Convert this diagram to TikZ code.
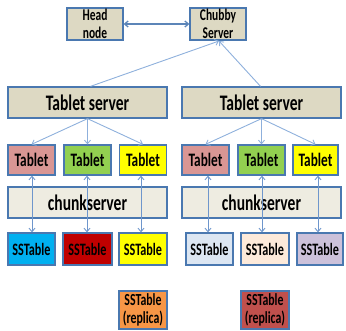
\documentclass[tikz,border=0pt]{standalone}
\usepackage{fontspec}
\setmainfont{Carlito}[FakeStretch=0.70]
\usetikzlibrary{arrows.meta}
\definecolor{tan}{HTML}{DDD9C3}
\definecolor{cream}{HTML}{EEECE1}
\definecolor{bord}{HTML}{4A78B0}
\definecolor{arr}{HTML}{6E96CC}
\definecolor{arrl}{HTML}{8EB0DC}
\definecolor{tpink}{HTML}{D99694}
\definecolor{tgreen}{HTML}{92D050}
\definecolor{tyellow}{HTML}{FFFF00}
\definecolor{scyan}{HTML}{00B0F0}
\definecolor{sred}{HTML}{C00000}
\definecolor{slblue}{HTML}{DCE6F2}
\definecolor{speach}{HTML}{FDEADA}
\definecolor{slav}{HTML}{CCC1DA}
\definecolor{rorange}{HTML}{F79646}
\definecolor{rred}{HTML}{C0504D}
\tikzset{
  box/.style={draw=bord, line width=1.3pt, rectangle, inner sep=0pt, align=center, text=black},
  smallbox/.style={box, fill=tan, minimum width=56pt, minimum height=32pt, font=\bfseries\fontsize{16.4}{18.5}\selectfont},
  serverbox/.style={box, fill=tan, minimum width=159pt, minimum height=31pt, font=\bfseries\fontsize{22.2}{25}\selectfont},
  chunkbox/.style={box, fill=cream, minimum width=159pt, minimum height=31pt, font=\bfseries\fontsize{22.2}{25}\selectfont},
  tabbox/.style={box, minimum width=47pt, minimum height=30pt, font=\bfseries\fontsize{19}{21}\selectfont},
  ssbox/.style={box, minimum width=47pt, minimum height=32pt, font=\bfseries\fontsize{17.4}{19}\selectfont},
  repbox/.style={box, minimum width=48pt, minimum height=38pt, font=\bfseries\fontsize{16.9}{18.5}\selectfont},
  conn/.style={draw=arr, line width=0.9pt, {Straight Barb[length=3.5pt,width=6pt]}-{Straight Barb[length=3.5pt,width=6pt]}},
  fan/.style={draw=arrl, line width=0.9pt, -{Straight Barb[length=3.5pt,width=6pt]}},
}
\begin{document}
\begin{tikzpicture}[x=1pt,y=-1pt]
\useasboundingbox (0,0) rectangle (346,330);
% top
\node[smallbox] (head) at (95,24) {Head\\node};
\node[smallbox] (chubby) at (218,24) {Chubby\\Server};
\draw[conn, line width=1.3pt, draw=bord!90] (head) -- (chubby);
% tablet servers
\node[serverbox] (ts1) at (87.5,102.5) {Tablet server};
\node[serverbox] (ts2) at (261.5,102.5) {Tablet server};
\coordinate (ch) at (219,41);
\draw[fan] (ts1.north) ++(3,0) coordinate (a1) -- (ch);
\draw[fan] (ts2.north) ++(-1,0) coordinate (a2) -- (ch);
% tablets
\node[tabbox, fill=tpink] (t1) at (31.5,160) {Tablet};
\node[tabbox, fill=tgreen] (t2) at (87.5,160) {Tablet};
\node[tabbox, fill=tyellow] (t3) at (143,160) {Tablet};
\node[tabbox, fill=tpink] (t4) at (205.5,160) {Tablet};
\node[tabbox, fill=tgreen] (t5) at (261.5,160) {Tablet};
\node[tabbox, fill=tyellow, minimum width=45pt] (t6) at (315.5,160) {Tablet};
\foreach \t in {t1,t2,t3} \draw[fan] (ts1.south) -- (\t.north);
\foreach \t in {t4,t5,t6} \draw[fan] (ts2.south) -- (\t.north);
% chunkservers
\node[chunkbox] (c1) at (87.5,202.5) {chunkserver};
\node[chunkbox] (c2) at (261.5,202.5) {chunkserver};
% sstables
\node[ssbox, fill=scyan] (s1) at (31.5,249) {SSTable};
\node[ssbox, fill=sred, minimum width=49pt] (s2) at (87.5,249) {SSTable};
\node[ssbox, fill=tyellow, minimum width=48pt] (s3) at (143,249) {SSTable};
\node[ssbox, fill=slblue] (s4) at (209.5,249) {SSTable};
\node[ssbox, fill=speach, minimum width=48pt] (s5) at (265,249) {SSTable};
\node[ssbox, fill=slav, minimum width=46pt] (s6) at (320,249) {SSTable};
% vertical double arrows
\draw[conn] ([xshift=0.5pt]t1.south) -- ([xshift=0.5pt]t1.south |- s1.north);
\draw[conn] ([xshift=-0.5pt]t2.south) -- ([xshift=-0.5pt]t2.south |- s2.north);
\draw[conn] ([xshift=-2pt]t3.south) -- ([xshift=-2pt]t3.south |- s3.north);
\draw[conn] ([xshift=2.5pt]t4.south) -- ([xshift=2.5pt]t4.south |- s4.north);
\draw[conn] ([xshift=0.5pt]t5.south) -- ([xshift=0.5pt]t5.south |- s5.north);
\draw[conn] ([xshift=2.5pt]t6.south) -- ([xshift=2.5pt]t6.south |- s6.north);
% replicas
\node[repbox, fill=rorange] (r1) at (143,310) {SSTable\\(replica)};
\node[repbox, fill=rred] (r2) at (265,310) {SSTable\\(replica)};
\end{tikzpicture}
\end{document}
